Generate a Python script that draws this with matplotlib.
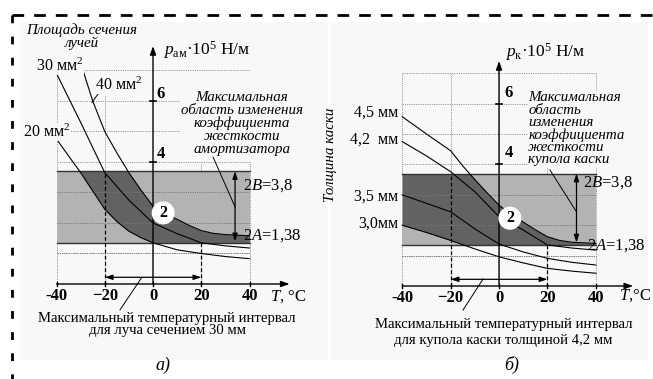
import numpy as np
import matplotlib
matplotlib.use("Agg")
import matplotlib.pyplot as plt
from matplotlib.lines import Line2D
from matplotlib.patches import Rectangle

plt.rcParams['font.family'] = ['Liberation Serif', 'DejaVu Serif']
plt.rcParams['mathtext.fontset'] = 'custom'
plt.rcParams['mathtext.rm'] = 'Liberation Serif'
plt.rcParams['mathtext.it'] = 'Liberation Serif:italic'
plt.rcParams['mathtext.bf'] = 'Liberation Serif:bold'

# ---- data ----
band_lo, band_hi = 1.35, 3.7          # 2A / 2B band
t_ticks = [-40, -20, 0, 20, 40]
t_tick_labels = ['-40', '\u221220', '0', '20', '40']
t_interval = [-20, 20]

# а) beams, cross-section area
t_20 = [-40, -35, -30, -25, -20, -15, -10, -5, 0, 10, 20, 30, 40]
p_20 = [4.75, 4.2, 3.65, 3.05, 2.45, 2.05, 1.73, 1.52, 1.35, 1.12, 1.0, 0.9, 0.83]
t_30 = [-40, -30, -20, -10, 0, 10, 20, 30, 40]
p_30 = [6.9, 5.3, 3.65, 2.75, 2.0, 1.65, 1.35, 1.25, 1.18]
t_40 = [-29, -25, -20, -15, -10, -5, 0, 5, 10, 15, 20, 25, 30, 35, 40]
p_40 = [7.0, 6.0, 5.0, 4.3, 3.65, 3.08, 2.55, 2.3, 2.12, 1.92, 1.75, 1.66, 1.62, 1.6, 1.58]

# б) helmet dome thickness
t_45 = [-40, -30, -20, -15, -10, -5, 0, 5, 10, 15, 20, 25, 30, 35, 40]
p_45 = [5.57, 5.0, 4.45, 3.95, 3.5, 3.07, 2.66, 2.35, 2.1, 1.85, 1.62, 1.5, 1.44, 1.42, 1.4]
t_42 = [-40, -30, -20, -10, 0, 10, 20, 30, 40]
p_42 = [4.75, 4.28, 3.76, 3.1, 2.28, 1.84, 1.35, 1.25, 1.18]
t_35 = [-40, -30, -20, -10, 0, 10, 20, 30, 40]
p_35 = [3.0, 2.72, 2.44, 1.88, 1.38, 1.12, 0.91, 0.78, 0.69]
t_3 = [-40, -30, -20, -10, 0, 10, 20, 30, 40]
p_3 = [2.0, 1.76, 1.5, 1.22, 0.96, 0.76, 0.58, 0.49, 0.42]

BG = '#f8f8f8'
LIGHT = '#b3b3b3'
DARK = '#626262'
GRID = '#909090'

FS_IT = 10.8     # italic annotations
FS_TX = 10.6     # upright text
FS_NUM = 12      # bold numbers

fig = plt.figure(figsize=(6.53, 3.79), dpi=100)
fig.patch.set_facecolor('white')

# faint panel backgrounds
fig.add_artist(Rectangle((20/653, 1-360/379), 308/653, 338/379, transform=fig.transFigure,
                         fc=BG, ec='none', zorder=0))
fig.add_artist(Rectangle((330/653, 1-360/379), 318/653, 338/379, transform=fig.transFigure,
                         fc=BG, ec='none', zorder=0))

# dashed frame (top and left)
fig.add_artist(Line2D([12/653, 1], [1-15/379, 1-15/379], transform=fig.transFigure,
                      color='k', lw=2.0, dashes=(4.2, 3.6)))
fig.add_artist(Line2D([12/653, 12/653], [1-15/379, 0], transform=fig.transFigure,
                      color='k', lw=2.0, dashes=(2.8, 4.8)))

axL = fig.add_axes([3.43/653, 0, 323.3/653, 1])
axL.set_xlim(-62, 72)
axL.set_ylim(-3.115, 9.311)
axR = fig.add_axes([324.8/653, 0, 324.3/653, 1])
axR.set_xlim(-72, 62)
axR.set_ylim(-3.059, 9.408)

tbox = dict(boxstyle='square,pad=0.02', fc=BG, ec='none')


def base(ax, lower, upper, vgrid, ytip, xtip):
    ax.axis('off')
    ax.patch.set_alpha(0)
    # grid
    for v in range(1, 8):
        ax.plot([-40, 40], [v, v], color=GRID, lw=0.6, ls=(0, (1.5, 1.2)), zorder=1)
    for t, top in vgrid:
        ax.plot([t, t], [0, top], color=GRID, lw=0.6, ls=(0, (1.5, 1.2)), zorder=1)
    # band
    ax.fill_between([-40, 40], band_lo, band_hi, color=LIGHT, lw=0, zorder=2)
    tt = np.linspace(-40, 40, 801)
    lo = np.clip(np.interp(tt, lower[0], lower[1]), band_lo, band_hi)
    hi = np.clip(np.interp(tt, upper[0], upper[1], left=99), band_lo, band_hi)
    ax.fill_between(tt, lo, hi, color=DARK, lw=0, zorder=2)
    for v in range(1, 4):
        ax.plot([-40, 40], [v, v], color='#777777', lw=0.6, ls=(0, (1.5, 1.2)), zorder=2.5)
    ax.plot([-40, 40], [band_hi, band_hi], color='#333333', lw=1.0, zorder=3)
    ax.plot([-40, 40], [band_lo, band_lo], color='#333333', lw=1.0, zorder=3)
    # axes with arrows
    ax.annotate('', xy=(xtip, 0), xytext=(-40, 0),
                arrowprops=dict(arrowstyle='-|>,head_length=0.5,head_width=0.18', color='k', lw=1.0,
                                shrinkA=0, shrinkB=0), zorder=5)
    ax.annotate('', xy=(0, ytip), xytext=(0, 0),
                arrowprops=dict(arrowstyle='-|>,head_length=0.5,head_width=0.18', color='k', lw=1.0,
                                shrinkA=0, shrinkB=0), zorder=5)
    for t, lab in zip(t_ticks, t_tick_labels):
        ax.plot([t, t], [-0.08, 0.08], color='k', lw=1.0, zorder=5)
        ax.text(t, -0.4, lab, ha='center', va='center', fontsize=FS_NUM, fontweight='bold')
    for v in (4, 6):
        ax.plot([-1.2, 1.2], [v, v], color='k', lw=1.2, zorder=5)
    # temperature interval
    ax.annotate('', xy=(t_interval[1], 0.22), xytext=(t_interval[0], 0.22),
                arrowprops=dict(arrowstyle='<|-|>,head_length=0.45,head_width=0.15', color='k', lw=0.9,
                                shrinkA=0, shrinkB=0), zorder=5)


# ---------------- а) ----------------
base(axL, (t_20, p_20), (t_40, p_40), [(-40, 7), (-20, 6.2), (20, 4), (40, 4)], 7.8, 56.6)
for t, p in [(t_20, p_20), (t_30, p_30), (t_40, p_40)]:
    axL.plot(t, p, color='k', lw=0.8, zorder=4)
axL.plot([-20, -20], [0, 3.65], color='k', lw=0.9, ls=(0, (3, 2)), zorder=4)
axL.plot([20, 20], [0, band_lo], color='k', lw=0.9, ls=(0, (3, 2)), zorder=4)
axL.annotate('', xy=(34, band_lo + 0.05), xytext=(34, band_hi),
             arrowprops=dict(arrowstyle='<|-|>,head_length=0.45,head_width=0.15', color='k', lw=0.9,
                             shrinkA=0, shrinkB=0), zorder=5)
axL.plot([24.9, 34], [4.16, 2.53], color='k', lw=0.7, zorder=5)
axL.plot([-4.6, -13.7], [0.22, -0.85], color='k', lw=0.7, zorder=5)
axL.plot([-22, -25.3], [6.32, 5.95], color='k', lw=0.7, zorder=5)

axL.text(4.2, 2.33, '2', ha='center', va='center', fontsize=11.5, fontweight='bold', zorder=7,
         bbox=dict(boxstyle='circle,pad=0.22', fc='white', ec='none'))
axL.text(4.1, 7.67, r'$p_{\mathrm{ам}}$·10$^5$ Н/м', ha='left', va='center', fontsize=12.5)
axL.text(3.3, 6.22, '6', ha='center', va='center', fontsize=FS_NUM, fontweight='bold')
axL.text(3.3, 4.25, '4', ha='center', va='center', fontsize=FS_NUM, fontweight='bold')
axL.text(48.5, -0.4, r'$T$, °C', ha='left', va='center', fontsize=12)
axL.text(-29.5, 8.12, 'Площадь сечения\nлучей', ha='center', va='center', ma='center',
         fontsize=FS_IT, style='italic', linespacing=0.95)
axL.text(-38.5, 7.14, '30 мм$^2$', ha='center', va='center', fontsize=11.5, bbox=tbox, zorder=6)
axL.text(-14.1, 6.52, '40 мм$^2$', ha='center', va='center', fontsize=11.5, bbox=tbox, zorder=6)
axL.text(-43.9, 4.97, '20 мм$^2$', ha='center', va='center', fontsize=11.5, bbox=tbox, zorder=6)
axL.text(36.7, 5.26, 'Максимальная\nобласть изменения\nкоэффициента\nжесткости\nамортизатора',
         ha='center', va='center', ma='center', fontsize=FS_IT, style='italic',
         linespacing=0.98, bbox=tbox, zorder=6)
axL.text(37.3, 3.21, '2$B$=3,8', ha='left', va='center', fontsize=12, zorder=6)
axL.text(37.3, 1.6, '2$A$=1,38', ha='left', va='center', fontsize=12, zorder=6)
axL.text(5.8, -1.33, 'Максимальный температурный интервал\nдля луча сечением 30 мм',
         ha='center', va='center', ma='center', fontsize=FS_TX, linespacing=0.98)
axL.text(4.1, -2.66, 'а)', ha='center', va='center', fontsize=13, style='italic')

# ---------------- б) ----------------
base(axR, (t_3, p_3), (t_45, p_45), [(-40, 7), (-20, 7), (20, 3.9), (40, 7)], 7.4, 55.4)
for t, p in [(t_45, p_45), (t_42, p_42), (t_35, p_35), (t_3, p_3)]:
    axR.plot(t, p, color='k', lw=0.8, zorder=4)
axR.plot([-20, -20], [0, band_hi], color='k', lw=0.9, ls=(0, (3, 2)), zorder=4)
axR.plot([20, 20], [0, band_lo], color='k', lw=0.9, ls=(0, (3, 2)), zorder=4)
axR.annotate('', xy=(32, band_lo + 0.08), xytext=(32, band_hi),
             arrowprops=dict(arrowstyle='<|-|>,head_length=0.45,head_width=0.15', color='k', lw=0.9,
                             shrinkA=0, shrinkB=0), zorder=5)
axR.plot([21, 32], [3.82, 2.44], color='k', lw=0.7, zorder=5)
axR.plot([-6.6, -14.9], [0.23, -0.79], color='k', lw=0.7, zorder=5)

axR.text(4.5, 2.23, '2', ha='center', va='center', fontsize=11.5, fontweight='bold', zorder=7,
         bbox=dict(boxstyle='circle,pad=0.22', fc='white', ec='none'))
axR.text(2.5, 7.7, r'$p_{\mathrm{к}}$·10$^5$ Н/м', ha='left', va='center', fontsize=12.5)
axR.text(4.0, 6.35, '6', ha='center', va='center', fontsize=FS_NUM, fontweight='bold')
axR.text(4.0, 4.38, '4', ha='center', va='center', fontsize=FS_NUM, fontweight='bold')
axR.text(49.5, -0.33, r'$T$,°C', ha='left', va='center', fontsize=12)
axR.text(-69.8, 4.3, 'Толщина каски', ha='center', va='center', rotation=90, fontsize=FS_IT, style='italic')
for s, v in [('4,5 мм', 5.69), ('4,2  мм', 4.8), ('3,5 мм', 2.94), ('3,0мм', 2.06)]:
    axR.text(-41.5, v, s, ha='right', va='center', fontsize=11.5)
axR.text(12, 5.17, 'Максимальная\nобласть\nизменения\nкоэффициента\nжесткости\nкупола каски',
         ha='left', va='center', ma='left', fontsize=FS_IT, style='italic',
         linespacing=0.93, bbox=tbox, zorder=6)
axR.text(34.7, 3.4, '2$B$=3,8', ha='left', va='center', fontsize=12, zorder=6)
axR.text(36.4, 1.32, '2$A$=1,38', ha='left', va='center', fontsize=12, zorder=6)
axR.text(1.8, -1.53, 'Максимальный температурный интервал\nдля купола каски толщиной 4,2 мм',
         ha='center', va='center', ma='center', fontsize=FS_TX, linespacing=1.35)
axR.text(5.4, -2.6, 'б)', ha='center', va='center', fontsize=13, style='italic')

fig.savefig('out.png', dpi=100)
